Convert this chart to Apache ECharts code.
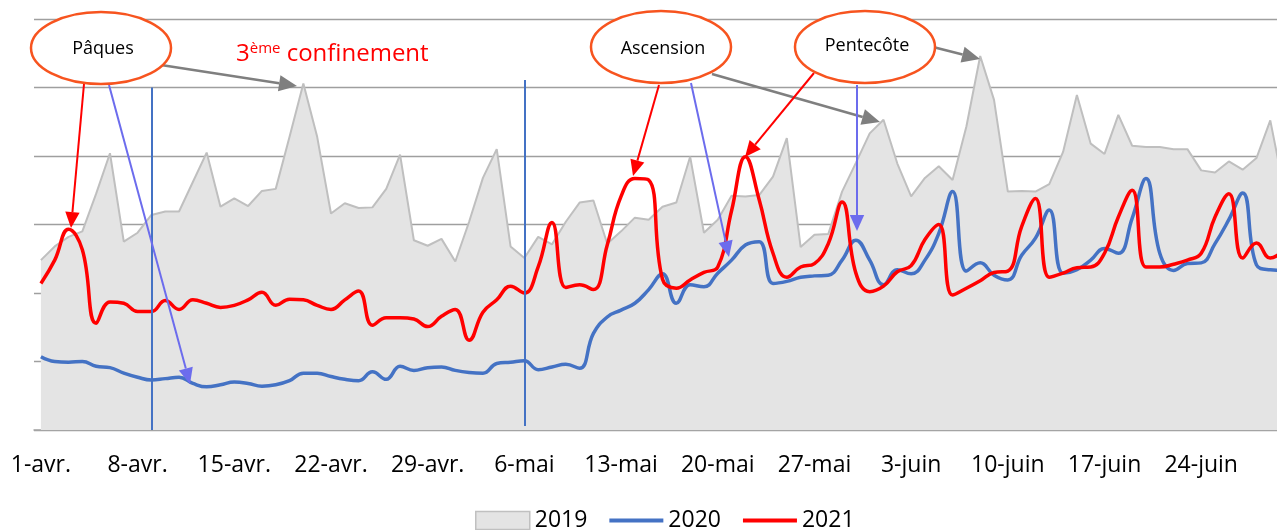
<!DOCTYPE html>
<html lang="fr">
<head>
<meta charset="UTF-8">
<script src="https://cdn.jsdelivr.net/npm/echarts/dist/echarts.min.js"></script>
<style>
    html, body { margin: 0; padding: 0; background: #fff; overflow: hidden; }
    /* le graphique original est coupé à droite */
    #chart { width: 1291px; height: 530px; }
</style>
</head>
<body>
<div id="chart"></div>
<script>
    // jours : 1 avril -> 30 juin
    var jours = [
        '1-avr.','2-avr.','3-avr.','4-avr.','5-avr.','6-avr.','7-avr.','8-avr.','9-avr.','10-avr.',
        '11-avr.','12-avr.','13-avr.','14-avr.','15-avr.','16-avr.','17-avr.','18-avr.','19-avr.','20-avr.',
        '21-avr.','22-avr.','23-avr.','24-avr.','25-avr.','26-avr.','27-avr.','28-avr.','29-avr.','30-avr.',
        '1-mai','2-mai','3-mai','4-mai','5-mai','6-mai','7-mai','8-mai','9-mai','10-mai',
        '11-mai','12-mai','13-mai','14-mai','15-mai','16-mai','17-mai','18-mai','19-mai','20-mai',
        '21-mai','22-mai','23-mai','24-mai','25-mai','26-mai','27-mai','28-mai','29-mai','30-mai','31-mai',
        '1-juin','2-juin','3-juin','4-juin','5-juin','6-juin','7-juin','8-juin','9-juin','10-juin',
        '11-juin','12-juin','13-juin','14-juin','15-juin','16-juin','17-juin','18-juin','19-juin','20-juin',
        '21-juin','22-juin','23-juin','24-juin','25-juin','26-juin','27-juin','28-juin','29-juin','30-juin'
    ];

    var v2019 = [
        248,268,282,290,345,404,275,288,314,319,
        319,362,405,326,338,327,349,352,428,506,
        428,316,331,324,325,352,402,277,269,279,
        246,304,368,410,268,251,282,271,304,332,
        335,272,290,310,307,326,332,399,288,307,
        342,341,343,370,426,267,285,286,348,390,433,
        453,389,341,368,385,365,443,546,482,348,
        349,348,359,406,489,418,403,460,415,413,
        413,410,410,379,376,392,380,397,452,350
    ];

    var v2020 = [
        107,100,99,100,93,91,83,77,73,75,
        77,68,63,66,70,68,64,66,72,83,
        83,78,74,72,85,74,93,87,91,92,
        87,84,83,97,99,101,88,92,96,90,
        141,165,175,185,205,228,185,212,209,229,
        248,270,275,214,217,223,225,226,248,277,248,
        212,234,228,248,287,348,232,244,226,219,
        255,280,321,229,234,248,265,258,309,367,
        258,233,243,244,272,307,346,241,234,233
    ];

    var v2021 = [
        214,248,293,263,156,187,185,173,173,189,
        176,190,185,179,182,190,201,182,191,190,
        182,176,190,203,153,164,164,162,151,166,
        176,131,172,190,210,200,238,303,208,212,
        205,270,341,367,365,220,207,219,230,238,
        320,399,336,258,223,238,243,272,333,229,202,
        210,231,240,278,300,197,207,218,230,232,
        297,338,223,229,237,238,258,311,350,238,
        238,242,248,258,311,345,251,273,251,263
    ];

    // traits verticaux (jour, haut, bas)
    var repereConfinement = [['9-avr.', 500, 0], ['6-mai', 511, 6]];

    function fleche(x1, y1, x2, y2, couleur, largeur, tete) {
        var dx = x2 - x1, dy = y2 - y1;
        var L = Math.sqrt(dx * dx + dy * dy);
        var ux = dx / L, uy = dy / L;
        var bx = x2 - ux * tete, by = y2 - uy * tete, hw = tete * 0.45;
        return [
            { type: 'line', z: 50, shape: { x1: x1, y1: y1, x2: bx, y2: by },
              style: { stroke: couleur, lineWidth: largeur } },
            { type: 'polygon', z: 50,
              shape: { points: [[x2, y2], [bx - uy * hw, by + ux * hw], [bx + uy * hw, by - ux * hw]] },
              style: { fill: couleur } }
        ];
    }

    function bulle(cx, cy, texte, ty) {
        return [
            { type: 'ellipse', z: 60, shape: { cx: cx, cy: cy, rx: 70, ry: 36 },
              style: { fill: '#fff', stroke: '#f7541f', lineWidth: 2.5 } },
            { type: 'text', z: 61,
              style: { text: texte, x: cx + 2, y: ty, font: '18px "Open Sans"', fill: '#000',
                       align: 'center', verticalAlign: 'middle', textAlign: 'center', textVerticalAlign: 'middle' } }
        ];
    }

    var gris = '#7f7f7f', rouge = '#ff0000', violet = '#6c6ced';
    var annotations = [].concat(
        fleche(161, 65, 297, 86, gris, 2.5, 18),
        fleche(84, 84, 71, 228, rouge, 2, 16),
        fleche(109, 85, 190, 384, violet, 2, 16),
        fleche(659, 85, 633, 176, rouge, 2, 16),
        fleche(691, 83, 729, 257, violet, 2, 16),
        fleche(712, 74, 880, 122, gris, 2.5, 18),
        fleche(814, 73, 745, 157, rouge, 2, 16),
        fleche(857, 85, 857, 231, violet, 2, 16),
        fleche(933, 47, 980, 59, gris, 2.5, 18),
        bulle(101, 48, 'Pâques', 49),
        bulle(661, 47, 'Ascension', 49),
        bulle(865, 47, 'Pentecôte', 46),
        [{
            type: 'text', z: 61,
            style: {
                text: '{a|3}{b|ème}{a| confinement}', x: 236, y: 51,
                align: 'left', verticalAlign: 'middle', textAlign: 'left', textVerticalAlign: 'middle',
                rich: {
                    a: { fontSize: 24, fontFamily: 'Open Sans', fill: rouge, lineHeight: 30, verticalAlign: 'bottom' },
                    b: { fontSize: 15, fontFamily: 'Open Sans', fill: rouge, lineHeight: 18, padding: [5, 0, 0, 0], verticalAlign: 'top' }
                }
            }
        }]
    );

    var chart = echarts.init(document.getElementById('chart'));
    chart.setOption({
        animation: false,
        textStyle: { fontFamily: 'Open Sans' },
        grid: { left: 34, right: 0, top: 19, bottom: 100 },
        xAxis: {
            type: 'category',
            data: jours,
            boundaryGap: true,
            axisLine: { lineStyle: { color: '#a6a6a6', width: 1.5 } },
            axisTick: { interval: 6, length: 8, lineStyle: { color: '#a6a6a6', width: 1.5 } },
            axisLabel: { interval: 6, color: '#000', fontSize: 23, margin: 24 }
        },
        yAxis: {
            type: 'value',
            min: 0, max: 600, interval: 100,
            axisLabel: { show: false },
            axisLine: { show: false },
            axisTick: { show: false },
            splitLine: { lineStyle: { color: '#9f9f9f', width: 1.3 } }
        },
        legend: {
            top: 504, left: 470,
            itemWidth: 54, itemHeight: 18, itemGap: 20,
            textStyle: { fontSize: 23, color: '#000' },
            data: [
                { name: '2019', icon: 'rect', itemStyle: { color: '#e4e4e4', borderColor: '#c0c0c0', borderWidth: 1.5 } },
                { name: '2020', itemStyle: { opacity: 0 }, lineStyle: { width: 4 } },
                { name: '2021', itemStyle: { opacity: 0 }, lineStyle: { width: 4 } }
            ]
        },
        series: [
            {
                name: '2019', type: 'line', data: v2019, symbol: 'none',
                lineStyle: { color: '#bfbfbf', width: 2 },
                itemStyle: { color: '#e4e4e4' },
                areaStyle: { color: '#e4e4e4', opacity: 1 },
                z: 1
            },
            {
                name: '2020', type: 'line', data: v2020, symbol: 'none', smooth: 0.45,
                lineStyle: { color: '#4472c4', width: 3.5 },
                itemStyle: { color: '#4472c4' },
                z: 3,
                markLine: {
                    silent: true, symbol: 'none', label: { show: false },
                    lineStyle: { color: '#4472c4', width: 2, type: 'solid' },
                    data: repereConfinement.map(function (r) {
                        return [{ coord: [r[0], r[1]] }, { coord: [r[0], r[2]] }];
                    })
                }
            },
            {
                name: '2021', type: 'line', data: v2021, symbol: 'none', smooth: 0.45,
                lineStyle: { color: '#ff0000', width: 3.5 },
                itemStyle: { color: '#ff0000' },
                z: 4
            }
        ],
        graphic: { elements: annotations }
    });
</script>
</body>
</html>
